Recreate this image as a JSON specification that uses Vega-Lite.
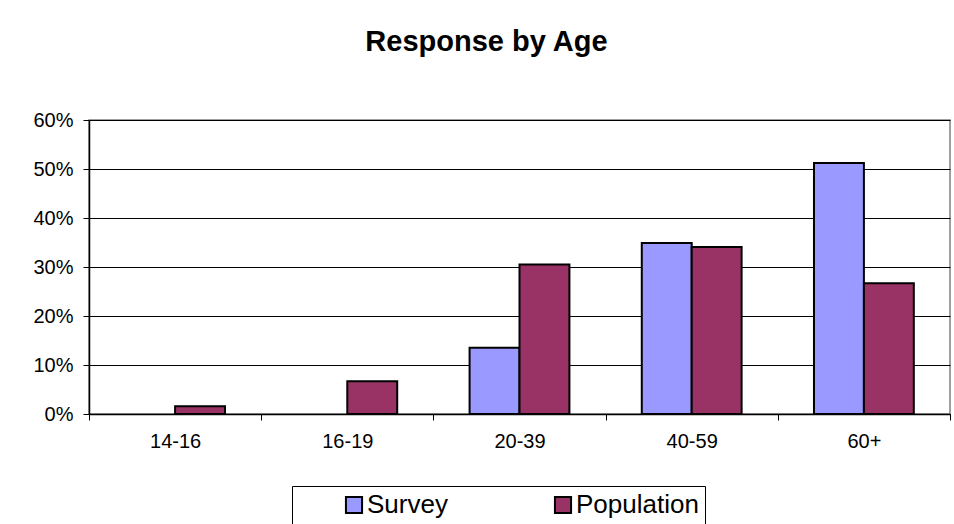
{
  "$schema": "https://vega.github.io/schema/vega-lite/v6.json",
  "width": 861,
  "height": 294,
  "autosize": {"type": "none"},
  "padding": {"left": 89, "top": 120, "right": 4, "bottom": 110},
  "background": "white",
  "title": {
    "text": "Response by Age",
    "font": "Liberation Sans",
    "fontSize": 29,
    "fontWeight": "bold",
    "color": "#000000",
    "anchor": "middle",
    "dx": -33,
    "baseline": "alphabetic",
    "offset": 30
  },
  "data": {
    "values": [
      {"age": "14-16", "series": "Survey", "value": 0},
      {"age": "14-16", "series": "Population", "value": 0.016},
      {"age": "16-19", "series": "Survey", "value": 0},
      {"age": "16-19", "series": "Population", "value": 0.067},
      {"age": "20-39", "series": "Survey", "value": 0.135},
      {"age": "20-39", "series": "Population", "value": 0.305},
      {"age": "40-59", "series": "Survey", "value": 0.349},
      {"age": "40-59", "series": "Population", "value": 0.341},
      {"age": "60+", "series": "Survey", "value": 0.512},
      {"age": "60+", "series": "Population", "value": 0.267}
    ]
  },
  "transform": [{"filter": "datum.value > 0"}],
  "mark": {"type": "bar", "stroke": "#000000", "strokeWidth": 2},
  "encoding": {
    "x": {
      "field": "age",
      "type": "nominal",
      "sort": ["14-16", "16-19", "20-39", "40-59", "60+"],
      "scale": {"domain": ["14-16", "16-19", "20-39", "40-59", "60+"], "paddingInner": 0, "paddingOuter": 0},
      "axis": {
        "title": null,
        "labelAngle": 0,
        "labelFont": "Liberation Sans",
        "labelFontSize": 20,
        "labelColor": "#000000",
        "labelPadding": 11,
        "tickBand": "extent",
        "tickSize": 6,
        "tickColor": "#000000",
        "domainColor": "#000000",
        "domainWidth": 1.5,
        "grid": false
      }
    },
    "xOffset": {
      "field": "series",
      "type": "nominal",
      "sort": ["Survey", "Population"],
      "scale": {"domain": ["Survey", "Population"], "paddingInner": 0, "paddingOuter": 0.725}
    },
    "y": {
      "field": "value",
      "type": "quantitative",
      "scale": {"domain": [0, 0.6], "nice": false},
      "axis": {
        "title": null,
        "format": ".0%",
        "values": [0, 0.1, 0.2, 0.3, 0.4, 0.5, 0.6],
        "labelFont": "Liberation Sans",
        "labelFontSize": 20,
        "labelColor": "#000000",
        "labelPadding": 10,
        "tickSize": 6,
        "tickColor": "#000000",
        "domainColor": "#000000",
        "domainWidth": 1.5,
        "grid": true,
        "gridColor": "#000000",
        "gridWidth": 1
      }
    },
    "color": {
      "field": "series",
      "type": "nominal",
      "sort": ["Survey", "Population"],
      "scale": {"domain": ["Survey", "Population"], "range": ["#9999FF", "#993366"]},
      "legend": {
        "title": null,
        "orient": "none",
        "legendX": 203,
        "legendY": 366,
        "direction": "horizontal",
        "columns": 2,
        "gridAlign": "all",
        "columnPadding": 17,
        "symbolType": "square",
        "symbolSize": 260,
        "symbolStrokeColor": "#000000",
        "symbolStrokeWidth": 2,
        "symbolOffset": 43,
        "labelFont": "Liberation Sans",
        "labelFontSize": 26,
        "labelColor": "#000000",
        "labelOffset": 0,
        "strokeColor": "#000000",
        "padding": 6,
        "fillColor": "white"
      }
    }
  },
  "config": {
    "view": {"stroke": "#808080", "strokeWidth": 1.5},
    "bar": {"stroke": "#000000"}
  }
}
